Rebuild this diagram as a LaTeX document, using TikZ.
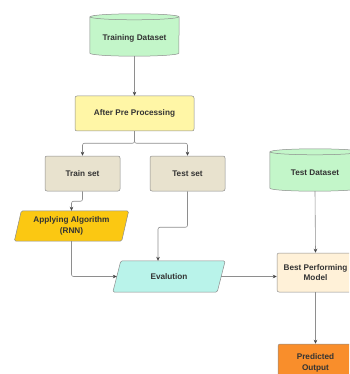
\documentclass[tikz,border=0pt]{standalone}
\usepackage{fontspec}
\setmainfont{Liberation Sans}
\usetikzlibrary{arrows.meta,backgrounds}
\definecolor{cgreen}{HTML}{C3F6C9}
\definecolor{cyellow}{HTML}{FFF6A6}
\definecolor{cbeige}{HTML}{E8E2CE}
\definecolor{cgold}{HTML}{FBC812}
\definecolor{ccyan}{HTML}{B9F3EA}
\definecolor{ccream}{HTML}{FFF1D8}
\definecolor{corange}{HTML}{F98E2B}
\definecolor{cborder}{HTML}{8C8C8C}
\definecolor{cline}{HTML}{8E8E8E}
\definecolor{ctext}{HTML}{333333}
\tikzset{
  lbl/.style={font=\fontsize{8.2}{10.3}\selectfont\bfseries, text=ctext, align=center, inner sep=0pt},
  boxnode/.style={lbl, draw=cborder, line width=0.5pt, rounded corners=2pt},
  phantombox/.style={lbl},
  shapeline/.style={draw=cborder, line width=0.5pt},
  arr/.style={draw=cline, line width=0.6pt, rounded corners=2pt, -{Stealth[length=4pt,width=3.6pt,color=ctext!90]}}
}
\begin{document}
\begin{tikzpicture}[x=1pt,y=-1pt]
\useasboundingbox (0,0) rectangle (349,374);
\clip (0,0) rectangle (349,374);

% cylinders (text nodes)
\node[phantombox, minimum width=89pt, minimum height=36pt] (tds) at (134.5,38) {Training Dataset};
\node[phantombox, minimum width=90pt, minimum height=36pt] (testds) at (315,173) {Test Dataset};

% boxes
\node[boxnode, fill=cyellow, minimum width=119pt, minimum height=35pt] (pre) at (134.5,113.5) {After Pre Processing};
\node[boxnode, fill=cbeige, minimum width=75pt, minimum height=35pt] (trainset) at (82.5,173.5) {Train set};
\node[boxnode, fill=cbeige, minimum width=75pt, minimum height=35pt] (testset) at (187.5,173.5) {Test set};
\node[boxnode, fill=ccream, minimum width=77pt, minimum height=39pt] (best) at (315.5,272.5) {Best Performing\\Model};
\node[boxnode, fill=corange, minimum width=75pt, minimum height=38pt] (pred) at (315.5,363) {Predicted\\Output};

% parallelograms (text nodes)
\node[phantombox, minimum width=107pt, minimum height=30pt] (alg) at (71.5,226) {Applying Algorithm\\(RNN)};
\node[phantombox, minimum width=104pt, minimum height=31pt] (eval) at (169,276.5) {Evalution};

\begin{scope}[on background layer]
  % cylinder shapes
  \foreach \n/\r in {tds/44.5pt, testds/45pt}{
    \path[shapeline, fill=cgreen]
      ([yshift=3pt]\n.north west) -- ([yshift=3pt]\n.south west)
      arc[start angle=180, end angle=360, x radius=\r, y radius=3pt]
      -- ([yshift=3pt]\n.north east)
      arc[start angle=0, end angle=180, x radius=\r, y radius=3pt] -- cycle;
    \draw[shapeline] ([yshift=3pt]\n.north west)
      arc[start angle=180, end angle=360, x radius=\r, y radius=3pt];
  }
  % parallelograms
  \path[shapeline, fill=cgold, rounded corners=1.5pt]
    ([xshift=3.5pt]alg.north west) -- ([xshift=3.5pt]alg.north east)
    -- ([xshift=-3.5pt]alg.south east) -- ([xshift=-3.5pt]alg.south west) -- cycle;
  \path[shapeline, fill=ccyan, rounded corners=1.5pt]
    ([xshift=4pt]eval.north west) -- ([xshift=4pt]eval.north east)
    -- ([xshift=-4pt]eval.south east) -- ([xshift=-4pt]eval.south west) -- cycle;
\end{scope}

% connectors
\draw[arr] (tds.south) -- (pre.north);
\draw[arr] (pre.south) -- ++(0,12) -| (trainset.north);
\draw[arr] (pre.south) -- ++(0,12) -| (testset.north);
\draw[arr] (trainset.south) -- ++(0,10) -| (alg.north);
\draw[arr] (alg.south) |- (eval.west);
\draw[arr] (testset.south) -- ++(0,36) -| ([xshift=-11pt]eval.north);
\draw[arr] (eval.east) -- (eval.east -| best.west);
\draw[arr] (testds.south) -- (best.north);
\draw[arr] (best.south) -- (pred.north);
\end{tikzpicture}
\end{document}
